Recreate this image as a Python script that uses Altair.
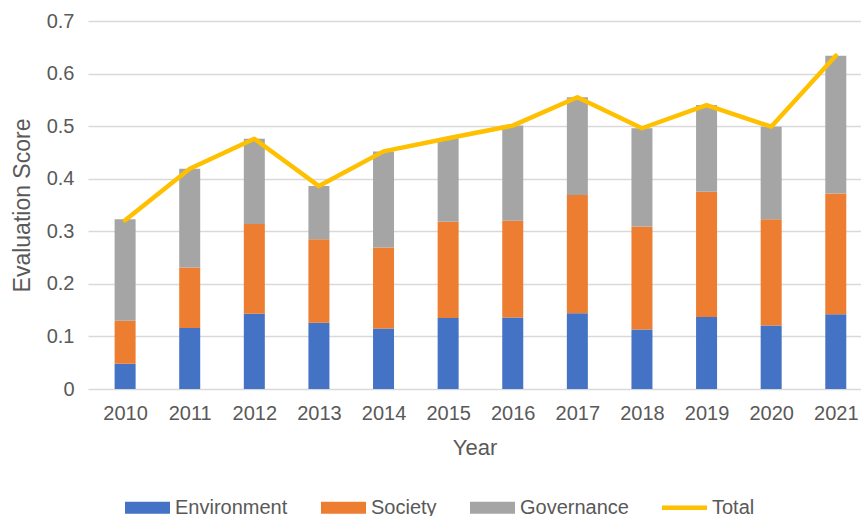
import altair as alt
import pandas as pd

years = [2010, 2011, 2012, 2013, 2014, 2015, 2016, 2017, 2018, 2019, 2020, 2021]
environment = [0.048, 0.116, 0.143, 0.126, 0.115, 0.135, 0.136, 0.144, 0.113, 0.137, 0.121, 0.142]
society = [0.082, 0.115, 0.171, 0.159, 0.154, 0.183, 0.184, 0.225, 0.196, 0.238, 0.202, 0.230]
governance = [0.193, 0.188, 0.162, 0.101, 0.183, 0.159, 0.181, 0.186, 0.187, 0.165, 0.176, 0.262]
total = [0.321, 0.419, 0.476, 0.386, 0.452, 0.477, 0.501, 0.555, 0.496, 0.540, 0.499, 0.634]

series_names = ["Environment", "Society", "Governance", "Total"]
series_colors = ["#4472C4", "#ED7D31", "#A5A5A5", "#FFC000"]
legend_shapes = [
    "M-1,-0.27H1V0.27H-1Z",
    "M-1,-0.27H1V0.27H-1Z",
    "M-1,-0.27H1V0.27H-1Z",
    "M-1,-0.1H1V0.1H-1Z",
]

rows = []
for i, y in enumerate(years):
    rows.append({"year": y, "series": "Environment", "value": environment[i], "order": 1})
    rows.append({"year": y, "series": "Society", "value": society[i], "order": 2})
    rows.append({"year": y, "series": "Governance", "value": governance[i], "order": 3})
bars_df = pd.DataFrame(rows)
total_df = pd.DataFrame({"year": years, "value": total, "series": ["Total"] * len(years)})
legend_df = pd.DataFrame({"series": series_names, "year": [2015] * 4, "value": [0.3] * 4})

FONT = "Liberation Sans"
TXT = "#595959"

color_scale = alt.Scale(domain=series_names, range=series_colors)
x_scale = alt.Scale(domain=[2009.503, 2021.313], nice=False, zero=False)
y_scale = alt.Scale(domain=[0, 0.7], nice=False)

x_axis = alt.Axis(values=years, format="d", grid=False, ticks=False, domain=False,
                  labelFontSize=20, labelColor=TXT, labelFont=FONT, labelPadding=14,
                  title="Year", titleFontSize=22, titleColor=TXT, titleFont=FONT,
                  titleFontWeight="normal", titlePadding=14)
y_axis = alt.Axis(values=[0, 0.1, 0.2, 0.3, 0.4, 0.5, 0.6, 0.7],
                  labelExpr="datum.value == 0 ? '0' : format(datum.value, '.1f')",
                  grid=True, gridColor="#D9D9D9", gridWidth=1.3, ticks=False, domain=False,
                  labelFontSize=20, labelColor=TXT, labelFont=FONT, labelPadding=14,
                  title="Evaluation Score", titleFontSize=23, titleColor=TXT, titleFont=FONT,
                  titleFontWeight="normal", titlePadding=12)

legend_def = alt.Legend(
    title=None, orient="none", legendX=37, legendY=464, direction="horizontal",
    labelFontSize=20, labelColor=TXT, labelFont=FONT, labelOffset=5,
    symbolSize=2025, symbolStrokeWidth=0, symbolOpacity=1, columnPadding=33,
    padding=0,
)

bars = alt.Chart(bars_df).mark_bar(size=21).encode(
    x=alt.X("year:Q", scale=x_scale, axis=x_axis),
    y=alt.Y("value:Q", stack="zero", scale=y_scale, axis=y_axis),
    color=alt.Color("series:N", scale=color_scale, legend=legend_def),
    order=alt.Order("order:Q"),
)

line = alt.Chart(total_df).mark_line(strokeWidth=4.5, strokeCap="round", strokeJoin="round").encode(
    x=alt.X("year:Q", scale=x_scale),
    y=alt.Y("value:Q", scale=y_scale),
    color=alt.Color("series:N", scale=color_scale, legend=legend_def),
)

legend_layer = alt.Chart(legend_df).mark_point(filled=True, opacity=0).encode(
    x=alt.X("year:Q", scale=x_scale),
    y=alt.Y("value:Q", scale=y_scale),
    color=alt.Color("series:N", scale=color_scale, legend=legend_def),
    shape=alt.Shape("series:N", scale=alt.Scale(domain=series_names, range=legend_shapes),
                    legend=legend_def),
)

chart = alt.layer(bars, line, legend_layer).properties(
    width=773, height=368,
    autosize=alt.AutoSizeParams(type="none"),
    padding={"left": 88, "top": 21, "right": 0, "bottom": 127},
).configure_view(stroke=None)

chart.save("out.html", embed_options={"renderer": "svg", "actions": False})
